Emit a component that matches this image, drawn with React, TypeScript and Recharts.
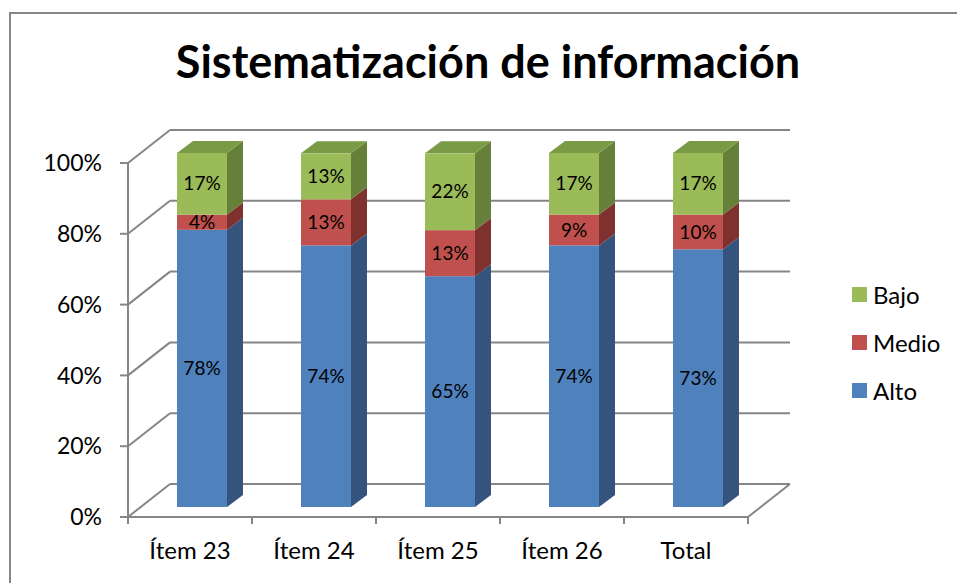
import React from 'react'
import { Bar, BarChart, CartesianGrid, LabelList, Legend, XAxis, YAxis } from 'recharts'

const categories = ['Ítem 23', 'Ítem 24', 'Ítem 25', 'Ítem 26', 'Total']
const alto = [78.3, 73.9, 65.2, 73.9, 72.8]
const medio = [4.3, 13.0, 13.0, 8.7, 9.8]
const bajo = [17.4, 13.0, 21.7, 17.4, 17.4]
const yTicks = [0, 20, 40, 60, 80, 100]

const data = categories.map((name, i) => ({
  name,
  alto: alto[i],
  medio: medio[i],
  bajo: bajo[i],
}))

const W = 957
const H = 583
const LEFT = 128
const TOP = 163
const RIGHT = 209
const X_AXIS_H = 66
const PLOT_BOTTOM = H - X_AXIS_H
const BAND = (W - LEFT - RIGHT) / categories.length

// fake 3d: back wall depth, bar offset into the box, bar depth
const WALL = { dx: 42, dy: -33 }
const SHIFT = { dx: 12, dy: -10 }
const DEPTH = { dx: 16, dy: -12 }

const FONT = 'Lato, "Noto Sans", sans-serif'
const GRID = '#868686'

const series = [
  { key: 'alto', name: 'Alto', front: '#4F81BD', side: '#34547E', top: '#3F6898' },
  { key: 'medio', name: 'Medio', front: '#C0504D', side: '#7F312F', top: '#9C3D3A' },
  { key: 'bajo', name: 'Bajo', front: '#9BBB59', side: '#66803A', top: '#7B9A45' },
]

type Colors = (typeof series)[number]

function makeBlock(c: Colors, showTop: boolean) {
  return (props: any) => {
    const { x, y, width, height } = props
    const fx = x + SHIFT.dx
    const fy = y + SHIFT.dy
    const { dx, dy } = DEPTH
    return (
      <g>
        <polygon
          points={`${fx + width},${fy} ${fx + width + dx},${fy + dy} ${fx + width + dx},${fy + height + dy} ${fx + width},${fy + height}`}
          fill={c.side}
        />
        {showTop ? (
          <polygon
            points={`${fx},${fy} ${fx + dx},${fy + dy} ${fx + width + dx},${fy + dy} ${fx + width},${fy}`}
            fill={c.top}
          />
        ) : null}
        <rect x={fx} y={fy} width={width} height={height} fill={c.front} />
      </g>
    )
  }
}

function renderLabel(props: any) {
  const { x, y, width, height, value } = props
  return (
    <text
      x={x + width / 2 + SHIFT.dx}
      y={y + height / 2 + SHIFT.dy}
      dy="0.35em"
      textAnchor="middle"
      fontFamily={FONT}
      fontSize={19}
      fill="#000"
    >
      {`${Math.round(value)}%`}
    </text>
  )
}

function renderGridLine(props: any) {
  const { x1, x2, y1 } = props
  const bx1 = x1 + WALL.dx
  const bx2 = x2 + WALL.dx
  const by = y1 + WALL.dy
  const isFloor = Math.abs(y1 - PLOT_BOTTOM) < 1
  return (
    <g key={props.key}>
      <line x1={bx1} y1={by} x2={bx2} y2={by} stroke={GRID} strokeWidth={2} />
      <line x1={x1} y1={y1} x2={bx1} y2={by} stroke={GRID} strokeWidth={2} />
      {isFloor ? <line x1={x2} y1={y1} x2={bx2} y2={by} stroke={GRID} strokeWidth={2} /> : null}
    </g>
  )
}

function XTick(props: any) {
  const { x, y, payload, index } = props
  const last = index === categories.length - 1
  return (
    <g>
      <line x1={x - BAND / 2} y1={y} x2={x - BAND / 2} y2={y + 7} stroke={GRID} strokeWidth={2} />
      {last ? (
        <line x1={x + BAND / 2} y1={y} x2={x + BAND / 2} y2={y + 7} stroke={GRID} strokeWidth={2} />
      ) : null}
      <text x={x} y={y + 42} textAnchor="middle" fontFamily={FONT} fontSize={24} fill="#000">
        {payload.value}
      </text>
    </g>
  )
}

function LegendBox() {
  return (
    <div style={{ fontFamily: FONT, fontSize: 24, color: '#000', width: 100 }}>
      {[...series].reverse().map((s) => (
        <div key={s.key} style={{ display: 'flex', alignItems: 'center', height: 48 }}>
          <span style={{ width: 15, height: 15, background: s.front, marginRight: 6 }} />
          {s.name}
        </div>
      ))}
    </div>
  )
}

export default function App() {
  return (
    <div style={{ position: 'absolute', left: 0, top: 0, width: W, height: H, overflow: 'hidden', background: '#fff' }}>
      <div
        style={{
          position: 'absolute',
          left: 9,
          top: 12,
          width: W,
          height: H,
          borderLeft: `2px solid ${GRID}`,
          borderTop: `2px solid ${GRID}`,
        }}
      />
      <svg width={W} height={100} style={{ position: 'absolute', left: 0, top: 0 }}>
        <text x={488} y={78} textAnchor="middle" fontFamily={FONT} fontWeight={700} fontSize={45} fill="#000">
          Sistematización de información
        </text>
      </svg>
      <div style={{ position: 'absolute', left: 0, top: 0 }}>
        <BarChart
          width={W}
          height={H}
          data={data}
          margin={{ top: TOP, right: RIGHT, bottom: 0, left: 0 }}
          barSize={50}
        >
          <CartesianGrid vertical={false} horizontal={renderGridLine} />
          <YAxis
            type="number"
            domain={[0, 100]}
            ticks={yTicks}
            interval={0}
            width={LEFT}
            tickSize={8}
            tickMargin={18}
            tickFormatter={(v) => `${v}%`}
            axisLine={{ stroke: GRID, strokeWidth: 2 }}
            tickLine={{ stroke: GRID, strokeWidth: 2 }}
            tick={{ fontFamily: FONT, fontSize: 23, fill: '#000' }}
          />
          <XAxis
            dataKey="name"
            height={X_AXIS_H}
            interval={0}
            tickLine={false}
            tickSize={0}
            tickMargin={0}
            axisLine={{ stroke: GRID, strokeWidth: 2 }}
            tick={<XTick />}
          />
          <Legend
            layout="horizontal"
            verticalAlign="middle"
            align="right"
            content={<LegendBox />}
            wrapperStyle={{ left: 852, top: 270, width: 0, height: 0, overflow: 'visible' }}
          />
          {series.map((s, i) => (
            <Bar
              key={s.key}
              dataKey={s.key}
              name={s.name}
              stackId="a"
              fill={s.front}
              shape={makeBlock(s, i === series.length - 1)}
              isAnimationActive={false}
            >
              <LabelList dataKey={s.key} content={renderLabel} />
            </Bar>
          ))}
        </BarChart>
      </div>
    </div>
  )
}
